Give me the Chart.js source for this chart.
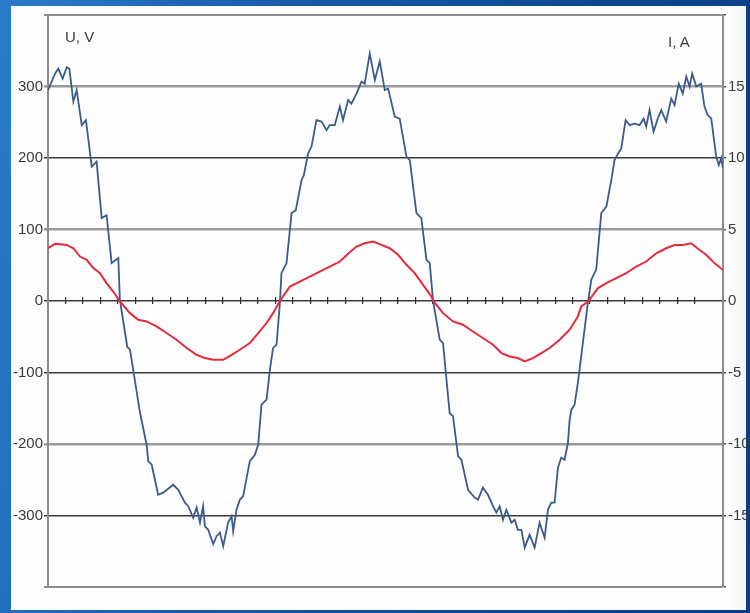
<!DOCTYPE html>
<html>
<head>
<meta charset="utf-8">
<script src="https://cdn.jsdelivr.net/npm/chart.js@4.4.1/dist/chart.umd.min.js"></script>
<style>
  html, body { margin: 0; padding: 0; width: 750px; height: 613px; overflow: hidden; }
  body {
    position: relative;
    font-family: "Liberation Sans", Arial, sans-serif;
    background: linear-gradient(100deg, #2a7bcb 0%, #1659aa 35%, #0d4794 70%, #0a3b88 100%);
  }
  #panel {
    position: absolute; left: 11px; top: 6px; width: 735px; height: 604px;
    background: linear-gradient(to right, #fdfdfd 0, #fdfdfd 718px, #f2f5fa 735px);
  }
  #wrap { position: absolute; left: 0; top: 0; width: 750px; height: 613px; }
  .unit { position: absolute; font-size: 15px; line-height: 16px; color: #3c3c3c; white-space: nowrap; }
</style>
</head>
<body>
<div id="panel"></div>
<div id="wrap"><canvas id="c" width="750" height="613"></canvas></div>
<div class="unit" style="left:65px; top:29px;">U, V</div>
<div class="unit" style="left:668px; top:34px;">I, A</div>
<script>
// Voltage waveform: time in grid divisions, value in volts
const voltTime = [
  0, 0.40, 0.59, 0.84, 1.07, 1.22, 1.45, 1.64, 1.93, 2.17, 2.50, 2.78, 3.07, 3.35, 3.64, 4.02,
  4.11, 4.53, 4.69, 5.26, 5.64, 5.73, 5.93, 6.30, 6.59, 7.16, 7.45, 7.83, 8.02, 8.30, 8.50, 8.69,
  8.87, 8.97, 9.16, 9.45, 9.64, 9.83, 10.02, 10.30, 10.50, 10.59, 10.78, 10.97, 11.16, 11.54, 11.83, 12.02,
  12.21, 12.50, 12.69, 12.87, 13.07, 13.26, 13.35, 13.64, 13.93, 14.17, 14.50, 14.63, 14.87, 15.07, 15.35, 15.64,
  15.93, 16.11, 16.40, 16.69, 16.87, 17.16, 17.35, 17.64, 17.93, 18.11, 18.40, 18.69, 18.97, 19.26, 19.45, 19.83,
  20.11, 20.50, 20.69, 21.07, 21.35, 21.64, 21.83, 22.02, 22.40, 22.59, 22.97, 23.16, 23.45, 23.64, 24.02, 24.40,
  24.59, 24.87, 25.16, 25.45, 25.64, 25.83, 26.02, 26.21, 26.50, 26.69, 26.87, 27.07, 27.26, 27.54, 27.83, 28.11,
  28.40, 28.59, 28.78, 28.97, 29.16, 29.35, 29.54, 29.73, 29.83, 29.93, 30.11, 30.30, 30.87, 31.07, 31.35, 31.64,
  31.93, 32.21, 32.40, 32.59, 32.78, 33.03, 33.26, 33.54, 33.83, 34.06, 34.21, 34.40, 34.63, 34.87, 35.07, 35.35,
  35.64, 35.83, 36.07, 36.30, 36.50, 36.69, 36.84, 37.07, 37.35, 37.54, 37.73, 37.93, 38.21, 38.36, 38.50, 38.59
];
const voltValues = [
  295, 318, 325, 311, 327, 325, 279, 295, 246, 253, 188, 195, 116, 120, 53, 60,
  2, -64, -68, -156, -201, -224, -229, -271, -268, -257, -264, -282, -287, -303, -289, -310,
  -287, -315, -320, -340, -329, -324, -343, -310, -301, -322, -292, -278, -273, -224, -215, -201,
  -145, -138, -96, -66, -61, -3, 39, 53, 123, 127, 169, 176, 206, 216, 253, 251,
  239, 246, 246, 272, 253, 281, 276, 290, 307, 304, 346, 309, 335, 295, 297, 258,
  255, 202, 197, 123, 116, 58, 53, 0, -54, -59, -157, -161, -217, -222, -264, -275,
  -278, -261, -271, -287, -296, -287, -306, -292, -310, -306, -320, -320, -345, -327, -345, -310,
  -331, -292, -282, -282, -233, -219, -222, -199, -166, -152, -145, -115, -3, 30, 44, 123,
  132, 169, 197, 206, 213, 253, 246, 248, 246, 255, 244, 267, 237, 255, 267, 251,
  283, 274, 304, 290, 314, 300, 318, 300, 304, 272, 260, 255, 202, 190, 200, 186
];

// Current waveform: time in grid divisions, value in amperes
const currTime = [
  0, 0.40, 1.07, 1.45, 1.83, 2.21, 2.59, 2.97, 3.35, 3.73, 4.09, 4.69, 5.16, 5.64, 6.21, 6.78,
  7.35, 7.93, 8.50, 8.97, 9.45, 10.02, 10.50, 10.97, 11.54, 12.02, 12.50, 12.87, 13.26, 13.83, 14.40, 14.97,
  15.54, 16.11, 16.69, 17.16, 17.64, 18.11, 18.59, 19.07, 19.54, 20.02, 20.50, 20.97, 21.45, 21.93, 22.03, 22.59,
  23.16, 23.73, 24.30, 24.87, 25.45, 25.93, 26.40, 26.87, 27.26, 27.73, 28.21, 28.69, 29.26, 29.83, 30.30, 30.50,
  30.91, 31.45, 31.93, 32.50, 33.07, 33.64, 34.21, 34.78, 35.35, 35.83, 36.30, 36.78, 37.26, 37.64, 38.11, 38.59
];
const currValues = [
  3.69, 4.00, 3.92, 3.69, 3.11, 2.88, 2.30, 1.95, 1.25, 0.66, 0, -0.85, -1.31, -1.43, -1.78, -2.24,
  -2.71, -3.29, -3.76, -3.99, -4.11, -4.11, -3.76, -3.41, -2.94, -2.24, -1.54, -0.85, 0, 1.01, 1.36, 1.71,
  2.06, 2.41, 2.76, 3.30, 3.81, 4.04, 4.16, 3.92, 3.69, 3.23, 2.53, 1.95, 1.13, 0.31, 0, -0.85,
  -1.43, -1.66, -2.13, -2.59, -3.06, -3.64, -3.88, -3.99, -4.22, -3.99, -3.64, -3.29, -2.71, -2.01, -1.08, -0.38,
  0, 0.90, 1.25, 1.60, 1.95, 2.41, 2.76, 3.34, 3.69, 3.92, 3.92, 4.04, 3.57, 3.23, 2.65, 2.18
];

// Axis tick labels
const voltTickLabels = [-300, -200, -100, 0, 100, 200, 300];
const currTickLabels = [-15, -10, -5, 0, 5, 10, 15];

const voltPoints = voltTime.map((t, i) => ({ x: t, y: voltValues[i] }));
const currPoints = currTime.map((t, i) => ({ x: t, y: currValues[i] }));

const softLines = [300, 100, -200];
const tickFont = { family: '"Liberation Sans", Arial, sans-serif', size: 15 };

new Chart(document.getElementById('c'), {
  type: 'line',
  data: {
    datasets: [
      {
        data: currPoints,
        yAxisID: 'y1',
        borderColor: '#e62a3c',
        borderWidth: 2,
        pointRadius: 0,
        tension: 0,
        order: 0
      },
      {
        data: voltPoints,
        yAxisID: 'y',
        borderColor: '#3b5b8b',
        borderWidth: 1.8,
        pointRadius: 0,
        tension: 0,
        order: 1
      }
    ]
  },
  options: {
    responsive: false,
    animation: false,
    devicePixelRatio: 1,
    layout: { padding: { left: 0, right: 0, top: 15, bottom: 26 } },
    plugins: { legend: { display: false }, tooltip: { enabled: false } },
    scales: {
      x: {
        type: 'linear',
        min: 0,
        max: 38.6,
        position: { y: 4.9 },
        border: { display: false },
        grid: { drawOnChartArea: false, drawTicks: true, tickLength: 7, color: '#2a2a2a', lineWidth: 1.2 },
        ticks: { display: false, stepSize: 1 },
        afterBuildTicks: (scale) => {
          scale.ticks = scale.ticks.filter(t => Math.abs(t.value - Math.round(t.value)) < 1e-6);
        }
      },
      y: {
        type: 'linear',
        position: 'left',
        min: -400,
        max: 400,
        border: { display: true, color: '#8c8c8c', width: 2 },
        grid: {
          color: (ctx) => {
            const v = ctx.tick ? ctx.tick.value : 0;
            if (Math.abs(v) === 400) return '#8c8c8c';
            if (softLines.includes(v)) return '#9c9c9c';
            return '#3a3a3a';
          },
          lineWidth: (ctx) => {
            const v = ctx.tick ? ctx.tick.value : 0;
            if (Math.abs(v) === 400) return 2;
            if (softLines.includes(v)) return 2.6;
            return 1.5;
          },
          tickLength: 4
        },
        ticks: {
          stepSize: 100,
          padding: 1,
          color: '#3a3a3a',
          font: tickFont,
          callback: (v) => voltTickLabels.includes(v) ? String(v) : ''
        },
        afterFit: (scale) => { scale.width = 48; }
      },
      y1: {
        type: 'linear',
        position: 'right',
        min: -20,
        max: 20,
        border: { display: true, color: '#8c8c8c', width: 2 },
        grid: { drawOnChartArea: false, tickLength: 3, color: '#555555', lineWidth: 1.5 },
        ticks: {
          stepSize: 5,
          padding: 2,
          color: '#3a3a3a',
          font: tickFont,
          callback: (v) => currTickLabels.includes(v) ? String(v) : ''
        },
        afterFit: (scale) => { scale.width = 27; }
      }
    }
  }
});
</script>
</body>
</html>
